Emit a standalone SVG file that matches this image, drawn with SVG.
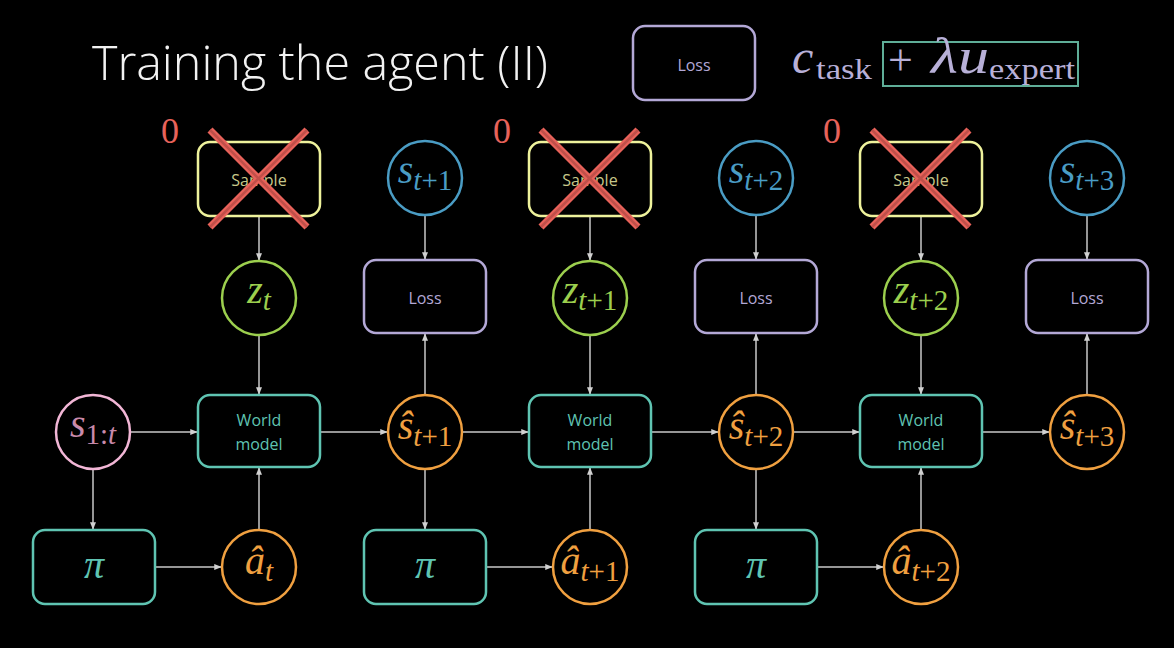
<svg xmlns="http://www.w3.org/2000/svg" width="1174" height="648" viewBox="0 0 1174 648">
<defs>
<marker id="arr" viewBox="0 0 10 10" refX="9" refY="5" markerWidth="5" markerHeight="5" orient="auto">
<path d="M0,1 L10,5 L0,9 z" fill="#d0d0d0"/>
</marker>
<style>
.box{fill:none;stroke-width:2.5}
.wm{stroke:#5fc4b2}
.loss{stroke:#b3a8d6}
.samp{stroke:#eef29c}
.lbl{font-family:"Open Sans","Noto Sans",sans-serif;font-size:16px;text-anchor:middle}
.m{font-family:"Liberation Serif","DejaVu Serif",serif;text-anchor:middle}
.i{font-style:italic}
.b{font-size:40px}
.s{font-size:29px}
.conn line{stroke:#c8c8c8;stroke-width:1.5;marker-end:url(#arr)}
.xo{stroke:#e8625a;stroke-width:7}
.xi{stroke:#c0504a;stroke-width:2.5}
.zero{font-family:"Liberation Serif","DejaVu Serif",serif;font-size:36px;fill:#e8625a}
.f{font-family:"Liberation Serif","DejaVu Serif",serif;fill:#b8b0d8}
</style>
</defs>
<rect width="1174" height="648" fill="#000"/>
<text x="92" y="80" font-family="Open Sans, Lato, sans-serif" font-weight="300" font-size="48" fill="#f2f2f2" textLength="456" lengthAdjust="spacingAndGlyphs">Training the agent (II)</text>

<g id="legend-loss">
<rect x="633" y="26" width="122" height="74" rx="12" class="box loss"/>
<text x="694" y="71" class="lbl" fill="#b3a8d6" font-size="15">Loss</text>
</g>
<g id="formula">
<text x="792" y="73" class="f i" font-size="48">c</text>
<text x="816" y="79" class="f" font-size="30" textLength="56" lengthAdjust="spacingAndGlyphs">task</text>
<rect x="883" y="42" width="195" height="44" fill="none" stroke="#5fae98" stroke-width="2"/>
<text x="888" y="75" class="f" font-size="44">+</text>
<text x="931" y="73" class="f i" font-size="50" textLength="58" lengthAdjust="spacingAndGlyphs">λu</text>
<text x="989" y="79" class="f" font-size="30" textLength="86" lengthAdjust="spacingAndGlyphs">expert</text>
</g>

<g class="conn" id="connectors">
<line x1="259" y1="217" x2="259" y2="260"/>
<line x1="259" y1="335" x2="259" y2="394"/>
<line x1="130" y1="432" x2="197" y2="432"/>
<line x1="93" y1="469" x2="93" y2="529"/>
<line x1="155" y1="567" x2="221" y2="567"/>
<line x1="259" y1="530" x2="259" y2="468"/>
<line x1="320" y1="432" x2="387" y2="432"/>
<line x1="425" y1="215" x2="425" y2="259"/>
<line x1="425" y1="395" x2="425" y2="334"/>
<line x1="462" y1="432" x2="528" y2="432"/>
<line x1="425" y1="469" x2="425" y2="529"/>
<line x1="486" y1="567" x2="552" y2="567"/>

<line x1="590" y1="217" x2="590" y2="260"/>
<line x1="590" y1="335" x2="590" y2="394"/>
<line x1="590" y1="530" x2="590" y2="468"/>
<line x1="651" y1="432" x2="718" y2="432"/>
<line x1="756" y1="215" x2="756" y2="259"/>
<line x1="756" y1="395" x2="756" y2="334"/>
<line x1="793" y1="432" x2="859" y2="432"/>
<line x1="756" y1="469" x2="756" y2="529"/>
<line x1="817" y1="567" x2="883" y2="567"/>

<line x1="921" y1="217" x2="921" y2="260"/>
<line x1="921" y1="335" x2="921" y2="394"/>
<line x1="921" y1="530" x2="921" y2="468"/>
<line x1="982" y1="432" x2="1049" y2="432"/>
<line x1="1087" y1="215" x2="1087" y2="259"/>
<line x1="1087" y1="395" x2="1087" y2="334"/>
</g>

<!-- column 1 -->
<g id="zero1"><text x="170" y="143" class="zero" text-anchor="middle">0</text></g>
<g id="sample1">
<rect x="198" y="142" width="122" height="74" rx="12" class="box samp"/>
<text x="259" y="186" class="lbl" fill="#c8c88a">Sample</text>
<line x1="210" y1="130" x2="307" y2="227" class="xo"/><line x1="307" y1="130" x2="210" y2="227" class="xo"/>
<line x1="210" y1="130" x2="307" y2="227" class="xi"/><line x1="307" y1="130" x2="210" y2="227" class="xi"/>
</g>
<g id="z1">
<circle cx="259" cy="298" r="37" fill="none" stroke="#9ccf4e" stroke-width="2.5"/>
<text x="259" y="303" class="m" fill="#9ccf4e"><tspan class="i b">z</tspan><tspan class="i s" dy="7">t</tspan></text>
</g>
<g id="s1t">
<circle cx="93" cy="432" r="37" fill="none" stroke="#f2b6d6" stroke-width="2.5"/>
<text x="93" y="437" class="m" fill="#c98aab"><tspan class="i b">s</tspan><tspan class="s" dy="7">1:<tspan class="i">t</tspan></tspan></text>
</g>
<g id="wm1">
<rect x="198" y="395" width="122" height="72" rx="12" class="box wm"/>
<text x="259" y="426" class="lbl" fill="#5fc4b2">World</text>
<text x="259" y="450" class="lbl" fill="#5fc4b2">model</text>
</g>
<g id="pi1">
<rect x="33" y="530" width="122" height="74" rx="12" class="box wm"/>
<text x="94" y="578" class="m i" font-size="40" fill="#5fc4b2">π</text>
</g>
<g id="a1">
<circle cx="259" cy="567" r="37" fill="none" stroke="#f0a040" stroke-width="2.5"/>
<text x="259" y="574" class="m" fill="#f0a040"><tspan class="i b">â</tspan><tspan class="i s" dy="7">t</tspan></text>
</g>

<!-- column 2 -->
<g id="st1">
<circle cx="425" cy="178" r="37" fill="none" stroke="#4a9cc4" stroke-width="2.5"/>
<text x="425" y="183" class="m" fill="#4a9cc4"><tspan class="i b">s</tspan><tspan class="s" dy="7"><tspan class="i">t</tspan>+1</tspan></text>
</g>
<g id="loss1">
<rect x="364" y="260" width="122" height="73" rx="12" class="box loss"/>
<text x="425" y="304" class="lbl" fill="#b3a8d6">Loss</text>
</g>
<g id="sh1">
<circle cx="425" cy="432" r="37" fill="none" stroke="#f0a040" stroke-width="2.5"/>
<text x="425" y="439" class="m" fill="#f0a040"><tspan class="i b">ŝ</tspan><tspan class="s" dy="7"><tspan class="i">t</tspan>+1</tspan></text>
</g>
<g id="pi2">
<rect x="364" y="530" width="122" height="74" rx="12" class="box wm"/>
<text x="425" y="578" class="m i" font-size="40" fill="#5fc4b2">π</text>
</g>

<!-- column 3 -->
<g id="zero2"><text x="502" y="143" class="zero" text-anchor="middle">0</text></g>
<g id="sample2">
<rect x="529" y="142" width="122" height="74" rx="12" class="box samp"/>
<text x="590" y="186" class="lbl" fill="#c8c88a">Sample</text>
<line x1="541" y1="130" x2="638" y2="227" class="xo"/><line x1="638" y1="130" x2="541" y2="227" class="xo"/>
<line x1="541" y1="130" x2="638" y2="227" class="xi"/><line x1="638" y1="130" x2="541" y2="227" class="xi"/>
</g>
<g id="z2">
<circle cx="590" cy="298" r="37" fill="none" stroke="#9ccf4e" stroke-width="2.5"/>
<text x="590" y="303" class="m" fill="#9ccf4e"><tspan class="i b">z</tspan><tspan class="s" dy="7"><tspan class="i">t</tspan>+1</tspan></text>
</g>
<g id="wm2">
<rect x="529" y="395" width="122" height="72" rx="12" class="box wm"/>
<text x="590" y="426" class="lbl" fill="#5fc4b2">World</text>
<text x="590" y="450" class="lbl" fill="#5fc4b2">model</text>
</g>
<g id="a2">
<circle cx="590" cy="567" r="37" fill="none" stroke="#f0a040" stroke-width="2.5"/>
<text x="590" y="574" class="m" fill="#f0a040"><tspan class="i b">â</tspan><tspan class="s" dy="7"><tspan class="i">t</tspan>+1</tspan></text>
</g>

<!-- column 4 -->
<g id="st2">
<circle cx="756" cy="178" r="37" fill="none" stroke="#4a9cc4" stroke-width="2.5"/>
<text x="756" y="183" class="m" fill="#4a9cc4"><tspan class="i b">s</tspan><tspan class="s" dy="7"><tspan class="i">t</tspan>+2</tspan></text>
</g>
<g id="loss2">
<rect x="695" y="260" width="122" height="73" rx="12" class="box loss"/>
<text x="756" y="304" class="lbl" fill="#b3a8d6">Loss</text>
</g>
<g id="sh2">
<circle cx="756" cy="432" r="37" fill="none" stroke="#f0a040" stroke-width="2.5"/>
<text x="756" y="439" class="m" fill="#f0a040"><tspan class="i b">ŝ</tspan><tspan class="s" dy="7"><tspan class="i">t</tspan>+2</tspan></text>
</g>
<g id="pi3">
<rect x="695" y="530" width="122" height="74" rx="12" class="box wm"/>
<text x="756" y="578" class="m i" font-size="40" fill="#5fc4b2">π</text>
</g>

<!-- column 5 -->
<g id="zero3"><text x="832" y="143" class="zero" text-anchor="middle">0</text></g>
<g id="sample3">
<rect x="860" y="142" width="122" height="74" rx="12" class="box samp"/>
<text x="921" y="186" class="lbl" fill="#c8c88a">Sample</text>
<line x1="872" y1="130" x2="969" y2="227" class="xo"/><line x1="969" y1="130" x2="872" y2="227" class="xo"/>
<line x1="872" y1="130" x2="969" y2="227" class="xi"/><line x1="969" y1="130" x2="872" y2="227" class="xi"/>
</g>
<g id="z3">
<circle cx="921" cy="298" r="37" fill="none" stroke="#9ccf4e" stroke-width="2.5"/>
<text x="921" y="303" class="m" fill="#9ccf4e"><tspan class="i b">z</tspan><tspan class="s" dy="7"><tspan class="i">t</tspan>+2</tspan></text>
</g>
<g id="wm3">
<rect x="860" y="395" width="122" height="72" rx="12" class="box wm"/>
<text x="921" y="426" class="lbl" fill="#5fc4b2">World</text>
<text x="921" y="450" class="lbl" fill="#5fc4b2">model</text>
</g>
<g id="a3">
<circle cx="921" cy="567" r="37" fill="none" stroke="#f0a040" stroke-width="2.5"/>
<text x="921" y="574" class="m" fill="#f0a040"><tspan class="i b">â</tspan><tspan class="s" dy="7"><tspan class="i">t</tspan>+2</tspan></text>
</g>

<!-- column 6 -->
<g id="st3">
<circle cx="1087" cy="178" r="37" fill="none" stroke="#4a9cc4" stroke-width="2.5"/>
<text x="1087" y="183" class="m" fill="#4a9cc4"><tspan class="i b">s</tspan><tspan class="s" dy="7"><tspan class="i">t</tspan>+3</tspan></text>
</g>
<g id="loss3">
<rect x="1026" y="260" width="122" height="73" rx="12" class="box loss"/>
<text x="1087" y="304" class="lbl" fill="#b3a8d6">Loss</text>
</g>
<g id="sh3">
<circle cx="1087" cy="432" r="37" fill="none" stroke="#f0a040" stroke-width="2.5"/>
<text x="1087" y="439" class="m" fill="#f0a040"><tspan class="i b">ŝ</tspan><tspan class="s" dy="7"><tspan class="i">t</tspan>+3</tspan></text>
</g>
</svg>
